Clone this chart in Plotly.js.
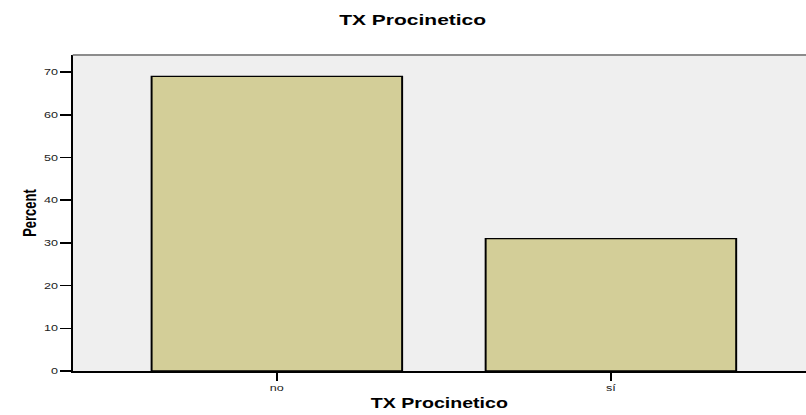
<!DOCTYPE html>
<html>
<head>
<meta charset="utf-8">
<script src="https://cdn.plot.ly/plotly-3.0.1.min.js"></script>
<style>
html,body{margin:0;padding:0;background:#fff;overflow:hidden;}
#wrap{width:806px;height:415px;overflow:hidden;}
#chart{width:576px;height:415px;transform:scaleX(1.3993);transform-origin:0 0;}
</style>
</head>
<body>
<div id="wrap"><div id="chart"></div></div>
<script>
const categories = ["no", "sí"];
const percents = [69.0, 31.0];
const yTicks = [0, 10, 20, 30, 40, 50, 60, 70];

const trace = {
  type: "bar",
  x: [0, 1],
  y: percents,
  width: 0.75,
  marker: {color: "#D3CE98", line: {color: "#000000", width: 1.4}},
  hoverinfo: "skip"
};

const layout = {
  width: 576, height: 415,
  margin: {l: 52.2, r: 0, t: 55, b: 44, pad: 0},
  paper_bgcolor: "#ffffff",
  plot_bgcolor: "#EFEFEF",
  showlegend: false,
  font: {family: "Liberation Sans, Arial, sans-serif", color: "#000"},
  title: {text: "<b>TX Procinetico</b>", x: 0.512, xanchor: "center", y: 0.952, yanchor: "middle",
          font: {size: 15, family: "Liberation Sans, Arial, sans-serif", color: "#000"}},
  xaxis: {
    range: [-0.611, 1.584],
    tickvals: [0, 1], ticktext: categories,
    ticks: "outside", ticklen: 8, tickwidth: 1.4, tickcolor: "#000",
    showline: true, linecolor: "#000", linewidth: 1.5,
    showgrid: false, zeroline: false,
    tickfont: {size: 9, color: "#222"},
    title: {text: "<b>TX Procinetico</b>", standoff: 6, font: {size: 14, color: "#000"}}
  },
  yaxis: {
    range: [0, 74],
    tickvals: yTicks, ticktext: yTicks.map(String),
    ticks: "outside", ticklen: 7.4, tickwidth: 1.5, tickcolor: "#000",
    showline: true, linecolor: "#000", linewidth: 1.4,
    showgrid: false, zeroline: false,
    tickfont: {size: 9, color: "#222"},
    title: {text: "<b>Percent</b>", standoff: 2,
            font: {size: 13, family: "Liberation Sans, Arial, sans-serif", color: "#000"}}
  },
  shapes: [{type: "line", xref: "paper", yref: "paper", x0: 0, x1: 1, y0: 1, y1: 1,
            line: {color: "#8C8C8C", width: 1.8}}],
  bargap: 0
};

Plotly.newPlot("chart", [trace], layout, {staticPlot: true, displayModeBar: false});
</script>
</body>
</html>
